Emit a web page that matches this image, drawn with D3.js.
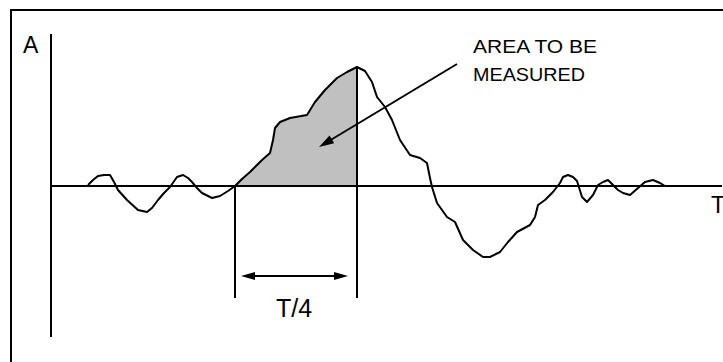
<!DOCTYPE html>
<html>
<head>
<meta charset="utf-8">
<script src="https://cdn.jsdelivr.net/npm/d3@7/dist/d3.min.js"></script>
<style>
  html, body { margin: 0; padding: 0; background: #fff; }
  svg text { font-family: Arial, "Liberation Sans", sans-serif; fill: #000; }
</style>
</head>
<body>
<div id="chart"></div>
<script>
'use strict';

// signal: time (arbitrary units) and amplitude
var times = [37, 42, 47, 53, 59, 63, 67, 76, 87, 96, 101, 107, 113, 119, 126, 132, 137, 141, 146, 151,
  161, 169, 177, 184, 191, 199, 211, 219, 222, 224, 229, 239, 256, 264, 274, 286, 296, 306,
  314, 321, 326, 334, 341, 349, 359, 369, 376, 379, 381, 386, 396, 404, 412, 422, 432, 439,
  449, 457, 466, 479, 484, 487, 494, 502, 509, 512, 517, 522, 526, 531, 536, 542, 547, 552,
  557, 562, 567, 572, 579, 587, 594, 602, 609, 614];
var amps = [1, 6, 10, 11, 11, 4, -4, -14, -24, -26, -22, -14, -7, -1, 9, 11, 8, 4, -2, -7,
  -12, -10, -5, 0, 7, 14, 26, 33, 46, 58, 64, 68, 71, 84, 96, 108, 114, 119,
  115, 104, 89, 79, 66, 46, 31, 28, 23, 8, -1, -17, -31, -36, -54, -64, -71, -71,
  -66, -56, -46, -39, -31, -19, -14, -6, 3, 9, 11, 9, 5, -11, -16, -9, 1, 4,
  6, 1, -4, -7, -9, -2, 4, 6, 3, 0];

// measured window: from zero crossing to quarter period later
var windowStart = 184;
var windowEnd = 306;

var labels = {yAxis: 'A', xAxis: 'T', span: 'T/4', note: ['AREA TO BE', 'MEASURED']};

var W = 723, H = 362;

var svg = d3.select('#chart').append('svg')
  .attr('width', W)
  .attr('height', H);

var x = d3.scaleLinear().domain([0, 671]).range([51, 722]);
var y = d3.scaleLinear().domain([-151, 152]).range([337, 34]);

var pts = times.map(function(t, i) { return {t: t, a: amps[i]}; });

// outer frame (right and bottom run off the picture)
svg.append('path')
  .attr('d', 'M11,' + (H + 2) + 'V10H' + (W + 2))
  .attr('fill', 'none')
  .attr('stroke', '#000')
  .attr('stroke-width', 2);

// shaded area
var inWin = pts.filter(function(d) { return d.t >= windowStart && d.t <= windowEnd; });
svg.append('path')
  .datum(inWin)
  .attr('d', d3.area().x(function(d) { return x(d.t); }).y0(y(0)).y1(function(d) { return y(d.a); }))
  .attr('fill', '#c0c0c0');

// axes
svg.append('line')
  .attr('x1', x(0)).attr('x2', x(0))
  .attr('y1', y.range()[1]).attr('y2', y.range()[0])
  .attr('stroke', '#000').attr('stroke-width', 2);
svg.append('line')
  .attr('x1', x(0)).attr('x2', x.range()[1])
  .attr('y1', y(0)).attr('y2', y(0))
  .attr('stroke', '#000').attr('stroke-width', 2);

// window markers
var markBottom = 298;
svg.append('line')
  .attr('x1', x(windowStart)).attr('x2', x(windowStart))
  .attr('y1', y(0)).attr('y2', markBottom)
  .attr('stroke', '#000').attr('stroke-width', 2);
var peak = pts.filter(function(d) { return d.t === windowEnd; })[0];
svg.append('line')
  .attr('x1', x(windowEnd)).attr('x2', x(windowEnd))
  .attr('y1', y(peak.a)).attr('y2', markBottom)
  .attr('stroke', '#000').attr('stroke-width', 2);

// signal
svg.append('path')
  .datum(pts)
  .attr('d', d3.line().x(function(d) { return x(d.t); }).y(function(d) { return y(d.a); }))
  .attr('fill', 'none')
  .attr('stroke', '#000')
  .attr('stroke-width', 2)
  .attr('stroke-linejoin', 'round');

// arrow heads
function head(tipX, tipY, fromX, fromY, len, half) {
  var dx = tipX - fromX, dy = tipY - fromY;
  var L = Math.sqrt(dx * dx + dy * dy);
  var ux = dx / L, uy = dy / L;
  var bx = tipX - ux * len, by = tipY - uy * len;
  svg.append('path')
    .attr('d', 'M' + tipX + ',' + tipY +
      'L' + (bx - uy * half) + ',' + (by + ux * half) +
      'L' + (bx + uy * half) + ',' + (by - ux * half) + 'Z')
    .attr('fill', '#000');
}

// T/4 dimension arrow
var dimY = 276;
var dimL = x(windowStart) + 6, dimR = x(windowEnd) - 9;
svg.append('line')
  .attr('x1', dimL + 8).attr('x2', dimR - 8)
  .attr('y1', dimY).attr('y2', dimY)
  .attr('stroke', '#000').attr('stroke-width', 2);
head(dimL, dimY, dimR, dimY, 14, 4);
head(dimR, dimY, dimL, dimY, 14, 4);

// pointer to area
var pStart = [457, 64], pTip = [319, 147];
svg.append('line')
  .attr('x1', pStart[0]).attr('y1', pStart[1])
  .attr('x2', pTip[0] + 10).attr('y2', pTip[1] - 6)
  .attr('stroke', '#000').attr('stroke-width', 2);
head(pTip[0], pTip[1], pStart[0], pStart[1], 15, 4.5);

// texts
svg.append('text').attr('x', 23).attr('y', 53)
  .style('font-size', '23px').text(labels.yAxis);
svg.append('text').attr('x', 711).attr('y', 213)
  .style('font-size', '23px').text(labels.xAxis);
svg.append('text').attr('x', (x(windowStart) + x(windowEnd)) / 2 - 2).attr('y', 317)
  .attr('text-anchor', 'middle')
  .style('font-size', '25px').text(labels.span);
svg.append('text').attr('x', 473).attr('y', 53)
  .attr('textLength', 124).attr('lengthAdjust', 'spacingAndGlyphs')
  .style('font-size', '19px').text(labels.note[0]);
svg.append('text').attr('x', 473).attr('y', 81)
  .attr('textLength', 112).attr('lengthAdjust', 'spacingAndGlyphs')
  .style('font-size', '19px').text(labels.note[1]);
</script>
</body>
</html>
